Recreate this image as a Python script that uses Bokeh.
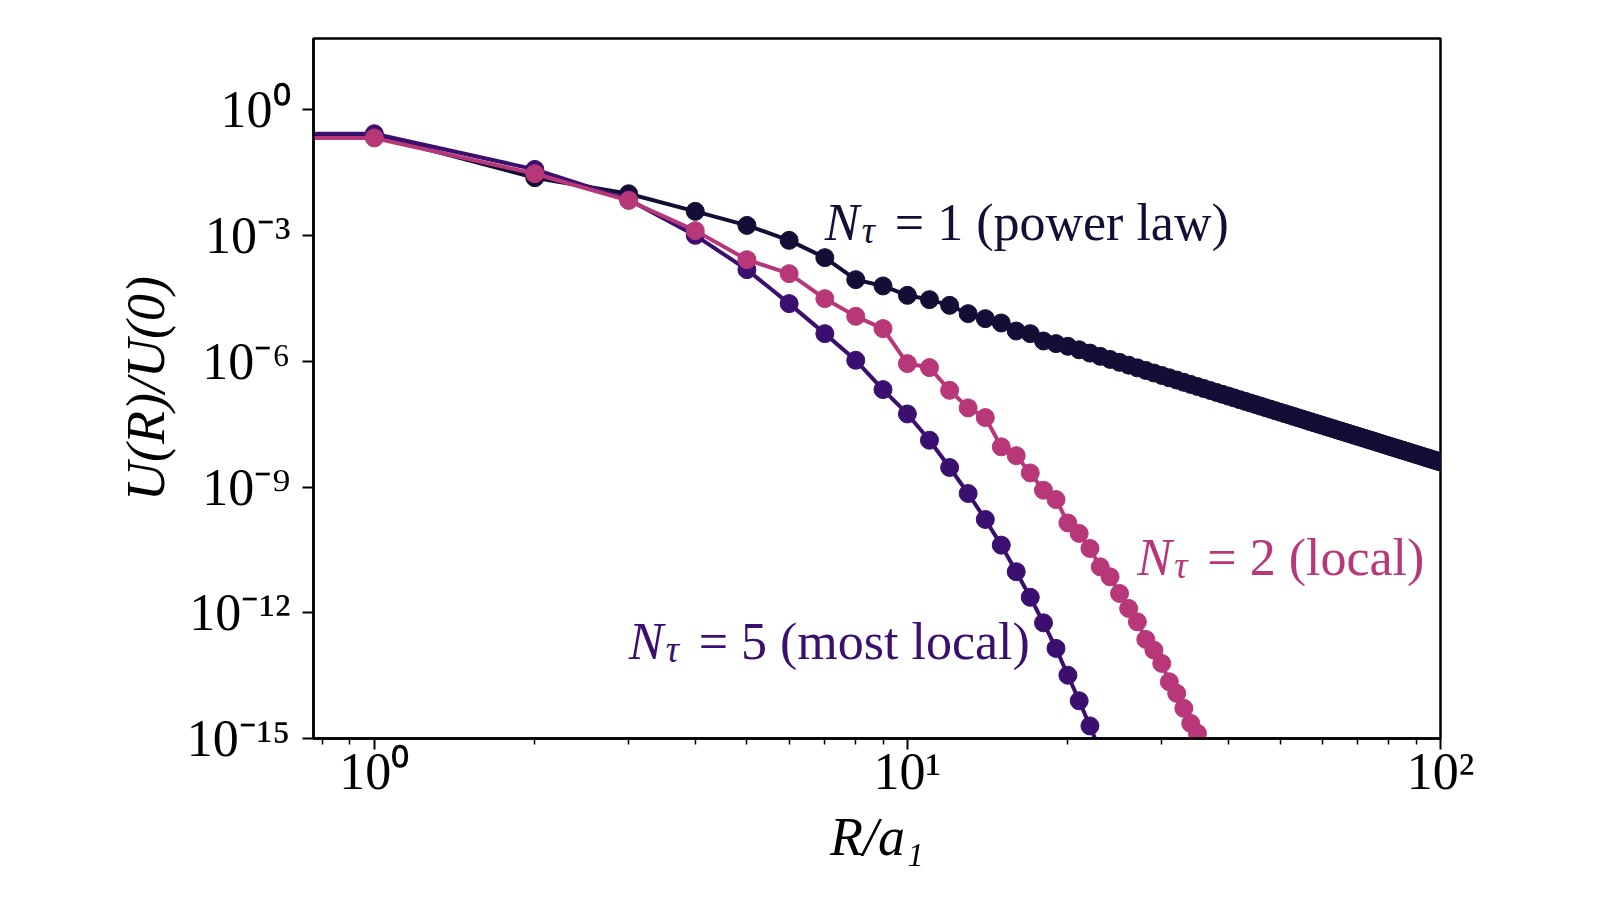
import numpy as np
from bokeh.plotting import figure
from bokeh.models import Range1d, FixedTicker, CustomJSTickFormatter, ColumnDataSource
from bokeh.core.properties import value
from bokeh.embed import file_html
from bokeh.resources import INLINE

# ---------------- data ----------------
# R/a1 values; R = 0 holds U(0)/U(0) = 1 (off the log axis, as in the original)
R_nt1 = list(range(0, 101))
# log10 of U(R)/U(0) for N_tau = 1 (power law)
U_nt1_log10 = [
    0.000, -0.608, -1.617, -2.000, -2.420, -2.755, -3.112, -3.525, -4.050, -4.200,
    -4.424, -4.527, -4.663, -4.861, -4.980, -5.084, -5.275, -5.338, -5.514, -5.576,
    -5.640, -5.724, -5.803, -5.880, -5.953, -6.023, -6.090, -6.155, -6.217, -6.277,
    -6.336, -6.392, -6.446, -6.499, -6.550, -6.600, -6.648, -6.695, -6.741, -6.786,
    -6.829, -6.871, -6.913, -6.953, -6.993, -7.031, -7.069, -7.106, -7.142, -7.177,
    -7.212, -7.246, -7.279, -7.312, -7.344, -7.375, -7.406, -7.437, -7.467, -7.496,
    -7.525, -7.553, -7.581, -7.608, -7.635, -7.662, -7.688, -7.714, -7.739, -7.764,
    -7.789, -7.813, -7.837, -7.861, -7.884, -7.907, -7.930, -7.953, -7.975, -7.997,
    -8.018, -8.040, -8.061, -8.081, -8.102, -8.122, -8.142, -8.162, -8.182, -8.201,
    -8.220, -8.239, -8.258, -8.276, -8.295, -8.313, -8.331, -8.349, -8.366, -8.384,
    -8.401,
]
R_nt2 = list(range(0, 37))
U_nt2_log10 = [
    0.000, -0.668, -1.522, -2.160, -2.880, -3.573, -3.907, -4.503, -4.925, -5.218,
    -6.053, -6.148, -6.690, -7.110, -7.341, -8.040, -8.250, -8.662, -9.075, -9.297,
    -9.855, -10.107, -10.465, -10.904, -11.142, -11.538, -11.896, -12.216, -12.635, -12.891,
    -13.208, -13.647, -13.923, -14.281, -14.639, -14.877, -15.230,
]
R_nt5 = list(range(0, 24))
U_nt5_log10 = [
    0.000, -0.568, -1.419, -2.140, -2.993, -3.811, -4.622, -5.338, -5.974, -6.673,
    -7.255, -7.882, -8.533, -9.153, -9.773, -10.386, -11.020, -11.630, -12.240, -12.850,
    -13.490, -14.100, -14.700, -15.310,
]

series_labels = ["1 (power law)", "2 (local)", "5 (most local)"]
series_colors = ["#140e36", "#b73779", "#3b0f70"]
label_R = [7, 27, 3]
label_U = [1e-3, 1e-11, 1e-13]

x_major = [1, 10, 100]
x_minor = [0.8, 0.9, 2, 3, 4, 5, 6, 7, 8, 9, 20, 30, 40, 50, 60, 70, 80, 90]
y_major = [1e0, 1e-3, 1e-6, 1e-9, 1e-12, 1e-15]

X_RANGE = (0.769, 100)
Y_RANGE = (1e-15, 50.7)
LOG_CLIP = 1e-100   # stand-in for R = 0 on a log axis (like matplotlib's 'clip')

FONT = "Liberation Serif"

p = figure(width=1584, height=884, x_axis_type="log", y_axis_type="log",
           x_range=Range1d(*X_RANGE), y_range=Range1d(*Y_RANGE),
           output_backend="svg", toolbar_location=None,
           min_border_left=313, min_border_right=144,
           min_border_top=38, min_border_bottom=146)
p.background_fill_color = "white"
p.border_fill_color = "white"
p.grid.visible = False
p.outline_line_color = "black"
p.outline_line_width = 2.5
p.outline_line_alpha = 1.0

def add_series(R, logU, color):
    x = np.array(R, dtype=float)
    x = np.where(x > 0, x, LOG_CLIP)
    y = 10.0 ** np.array(logU)
    src = ColumnDataSource(dict(x=x, y=y))
    p.line("x", "y", source=src, line_color=color, line_width=4)
    p.scatter("x", "y", source=src, size=18, fill_color=color, line_color=color)

add_series(R_nt1, U_nt1_log10, series_colors[0])
add_series(R_nt5, U_nt5_log10, series_colors[2])
add_series(R_nt2, U_nt2_log10, series_colors[1])

# in-plot labels  N_tau = ...
lab = ColumnDataSource(dict(x=label_R, y=label_U, rest=["= " + s for s in series_labels],
                            N=["N"] * 3, tau=["\u03c4"] * 3, c=series_colors))
p.text("x", "y", text="N", source=lab, text_color="c", text_font=value(FONT),
       text_font_style="italic", text_font_size="52px", text_baseline="alphabetic",
       text_align="left", y_offset=-13)
p.text("x", "y", text="tau", source=lab, text_color="c", text_font=value(FONT),
       text_font_style="italic", text_font_size="37px", text_baseline="alphabetic",
       text_align="left", x_offset=37, y_offset=-5)
p.text("x", "y", text="rest", source=lab, text_color="c", text_font=value(FONT),
       text_font_size="52px", text_baseline="alphabetic", text_align="left",
       x_offset=70, y_offset=-13)

sup_js = """
const m = {'0':'\u2070','1':'\u00b9','2':'\u00b2','3':'\u00b3','4':'\u2074','5':'\u2075',
           '6':'\u2076','7':'\u2077','8':'\u2078','9':'\u2079','-':'\u207b'};
const e = Math.round(Math.log10(tick)).toString();
let s = '';
for (const ch of e) { s += m[ch]; }
return '10' + s;
"""

p.xaxis.ticker = FixedTicker(ticks=x_major, minor_ticks=x_minor)
p.yaxis.ticker = FixedTicker(ticks=y_major, minor_ticks=[])
p.xaxis.formatter = CustomJSTickFormatter(code=sup_js)
p.yaxis.formatter = CustomJSTickFormatter(code=sup_js)

for ax in (p.xaxis[0], p.yaxis[0]):
    ax.axis_line_color = "black"
    ax.axis_line_width = 2.5
    ax.major_tick_line_color = "black"
    ax.major_tick_line_width = 2
    ax.minor_tick_line_color = "black"
    ax.minor_tick_line_width = 1.5
    ax.major_tick_in = 0
    ax.major_tick_out = 11
    ax.minor_tick_in = 0
    ax.minor_tick_out = 6
    ax.major_label_text_font = FONT
    ax.major_label_text_font_size = "52px"
    ax.major_label_text_color = "black"
    ax.axis_label_text_font = FONT
    ax.axis_label_text_font_style = "italic"
    ax.axis_label_text_font_size = "54px"
    ax.axis_label_text_color = "black"

p.xaxis.axis_label = "R/a\u2081"
p.yaxis.axis_label = "U(R)/U(0)"
p.xaxis.major_label_standoff = -7
p.xaxis.axis_label_standoff = 4
p.yaxis.major_label_standoff = 12
p.yaxis.axis_label_standoff = 8

open("out.html", "w").write(file_html(p, INLINE))
